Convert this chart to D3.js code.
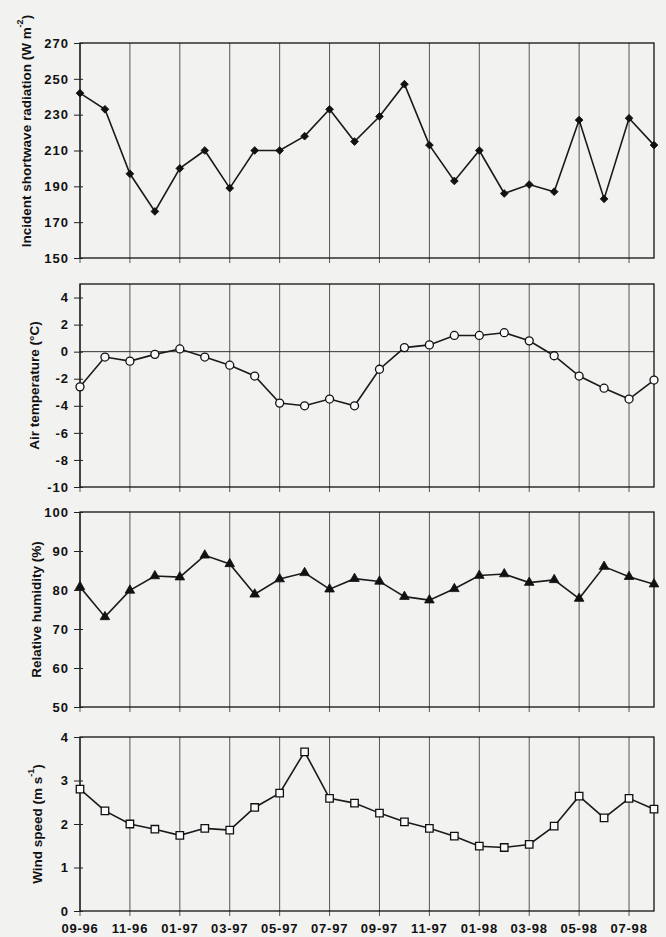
<!DOCTYPE html>
<html>
<head>
<meta charset="utf-8">
<script src="https://cdn.jsdelivr.net/npm/d3@7"></script>
<style>
  html, body { margin: 0; padding: 0; background: #f2f2f1; }
  svg { display: block; }
  text { font-family: Arial, "Liberation Sans", sans-serif; fill: #111; }
</style>
</head>
<body>
<svg id="chart" width="666" height="937"></svg>
<script>
// ---------------- data ----------------
const months = ["09-96","10-96","11-96","12-96","01-97","02-97","03-97","04-97","05-97","06-97","07-97","08-97",
                "09-97","10-97","11-97","12-97","01-98","02-98","03-98","04-98","05-98","06-98","07-98","08-98"];
const tickMonths = ["09-96","11-96","01-97","03-97","05-97","07-97","09-97","11-97","01-98","03-98","05-98","07-98"];

const radiation   = [242,233,197,176,200,210,189,210,210,218,233,215,229,247,213,193,210,186,191,187,227,183,228,213];
const temperature = [-2.6,-0.4,-0.7,-0.2,0.2,-0.4,-1.0,-1.8,-3.8,-4.0,-3.5,-4.0,-1.3,0.3,0.5,1.2,1.2,1.4,0.8,-0.3,-1.8,-2.7,-3.5,-2.1];
const humidity    = [80.8,73.1,79.9,83.6,83.3,88.9,86.7,78.9,82.8,84.4,80.2,82.9,82.2,78.3,77.4,80.3,83.7,84.1,81.9,82.6,77.8,86.0,83.4,81.5];
const windSpeed   = [2.8,2.3,2.0,1.88,1.74,1.9,1.86,2.38,2.71,3.66,2.59,2.48,2.25,2.05,1.9,1.72,1.49,1.46,1.53,1.95,2.64,2.14,2.59,2.34];

const radiationTicks   = [150,170,190,210,230,250,270];
const temperatureTicks = [-10,-8,-6,-4,-2,0,2,4];
const humidityTicks    = [50,60,70,80,90,100];
const windTicks        = [0,1,2,3,4];

// ---------------- layout ----------------
const svg = d3.select("#chart");
const left = 80, right = 654;
const x = d3.scalePoint().domain(months).range([left, right]);

const panels = [
  { values: radiation, domain: [150,270], ticks: radiationTicks, top: 43, bottom: 258,
    title: ["Incident shortwave radiation (W m", "-2", ")"], titleX: 27, titleY: 131, marker: "diamond" },
  { values: temperature, domain: [-10,5], ticks: temperatureTicks, top: 284, bottom: 487,
    title: ["Air temperature (°C)"], titleX: 35, marker: "circle", zeroLine: true },
  { values: humidity, domain: [50,100], ticks: humidityTicks, top: 512, bottom: 707,
    title: ["Relative humidity (%)"], titleX: 37, marker: "triangle" },
  { values: windSpeed, domain: [0,4], ticks: windTicks, top: 737, bottom: 911,
    title: ["Wind speed (m s", "-1", ")"], titleX: 38, marker: "square", xLabels: true }
];

panels.forEach(p => {
  const y = d3.scaleLinear().domain(p.domain).range([p.bottom, p.top]);
  const g = svg.append("g");

  // vertical grid lines (every two months) extending slightly below
  g.append("g").selectAll("line").data(tickMonths).join("line")
    .attr("x1", d => x(d)).attr("x2", d => x(d))
    .attr("y1", p.top).attr("y2", p.bottom + 5)
    .attr("stroke", "#444").attr("stroke-width", 0.9);

  if (p.zeroLine) {
    g.append("line").attr("x1", left).attr("x2", right)
      .attr("y1", y(0)).attr("y2", y(0)).attr("stroke", "#333").attr("stroke-width", 1);
  }

  // frame
  g.append("rect").attr("x", left).attr("y", p.top)
    .attr("width", right - left).attr("height", p.bottom - p.top)
    .attr("fill", "none").attr("stroke", "#111").attr("stroke-width", 1.3);

  // y axis
  const ax = g.append("g").attr("transform", `translate(${left},0)`)
    .call(d3.axisLeft(y).tickValues(p.ticks).tickSize(6).tickPadding(5).tickFormat(d => String(d)));
  ax.select(".domain").remove();
  ax.selectAll(".tick line").attr("x1", 3).attr("stroke", "#222");
  ax.selectAll(".tick text")
    .attr("font-size", 13).attr("font-weight", "bold")
    .attr("letter-spacing", 1).attr("fill", "#111")
    .attr("font-family", "Arial, 'Liberation Sans', sans-serif");

  // x labels on bottom panel
  if (p.xLabels) {
    g.append("g").selectAll("text").data(tickMonths).join("text")
      .attr("x", d => x(d)).attr("y", p.bottom + 22)
      .attr("text-anchor", "middle").attr("font-size", 13).attr("font-weight", "bold")
      .attr("letter-spacing", 0.8)
      .text(d => d);
  }

  // title
  const ty = p.titleY !== undefined ? p.titleY : (p.top + p.bottom) / 2;
  const t = g.append("text")
    .attr("transform", `translate(${p.titleX},${ty}) rotate(-90)`)
    .attr("text-anchor", "middle").attr("dominant-baseline", "middle")
    .attr("font-size", 13.5).attr("font-weight", "bold");
  t.append("tspan").text(p.title[0]);
  if (p.title.length > 1) {
    t.append("tspan").attr("font-size", 9).attr("dy", -6).text(p.title[1]);
    t.append("tspan").attr("dy", 6).text(p.title[2]);
  }

  // line
  const line = d3.line().x((d, i) => x(months[i])).y(d => y(d));
  g.append("path").datum(p.values).attr("d", line)
    .attr("fill", "none").attr("stroke", "#1a1a1a").attr("stroke-width", 1.6);

  // markers
  const mg = g.append("g");
  if (p.marker === "circle") {
    mg.selectAll("circle").data(p.values).join("circle")
      .attr("cx", (d, i) => x(months[i])).attr("cy", d => y(d)).attr("r", 4)
      .attr("fill", "#fafafa").attr("stroke", "#111").attr("stroke-width", 1.3);
  } else {
    const type = { diamond: d3.symbolSquare, triangle: d3.symbolTriangle, square: d3.symbolSquare }[p.marker];
    const size = { diamond: 30, triangle: 40, square: 56 }[p.marker];
    const rot = p.marker === "diamond" ? 45 : 0;
    const filled = p.marker !== "square";
    mg.selectAll("path").data(p.values).join("path")
      .attr("d", d3.symbol().type(type).size(size))
      .attr("transform", (d, i) => `translate(${x(months[i])},${y(d)}) rotate(${rot})`)
      .attr("fill", filled ? "#111" : "#fafafa")
      .attr("stroke", "#111").attr("stroke-width", filled ? 0.8 : 1.3);
  }
});
</script>
</body>
</html>
